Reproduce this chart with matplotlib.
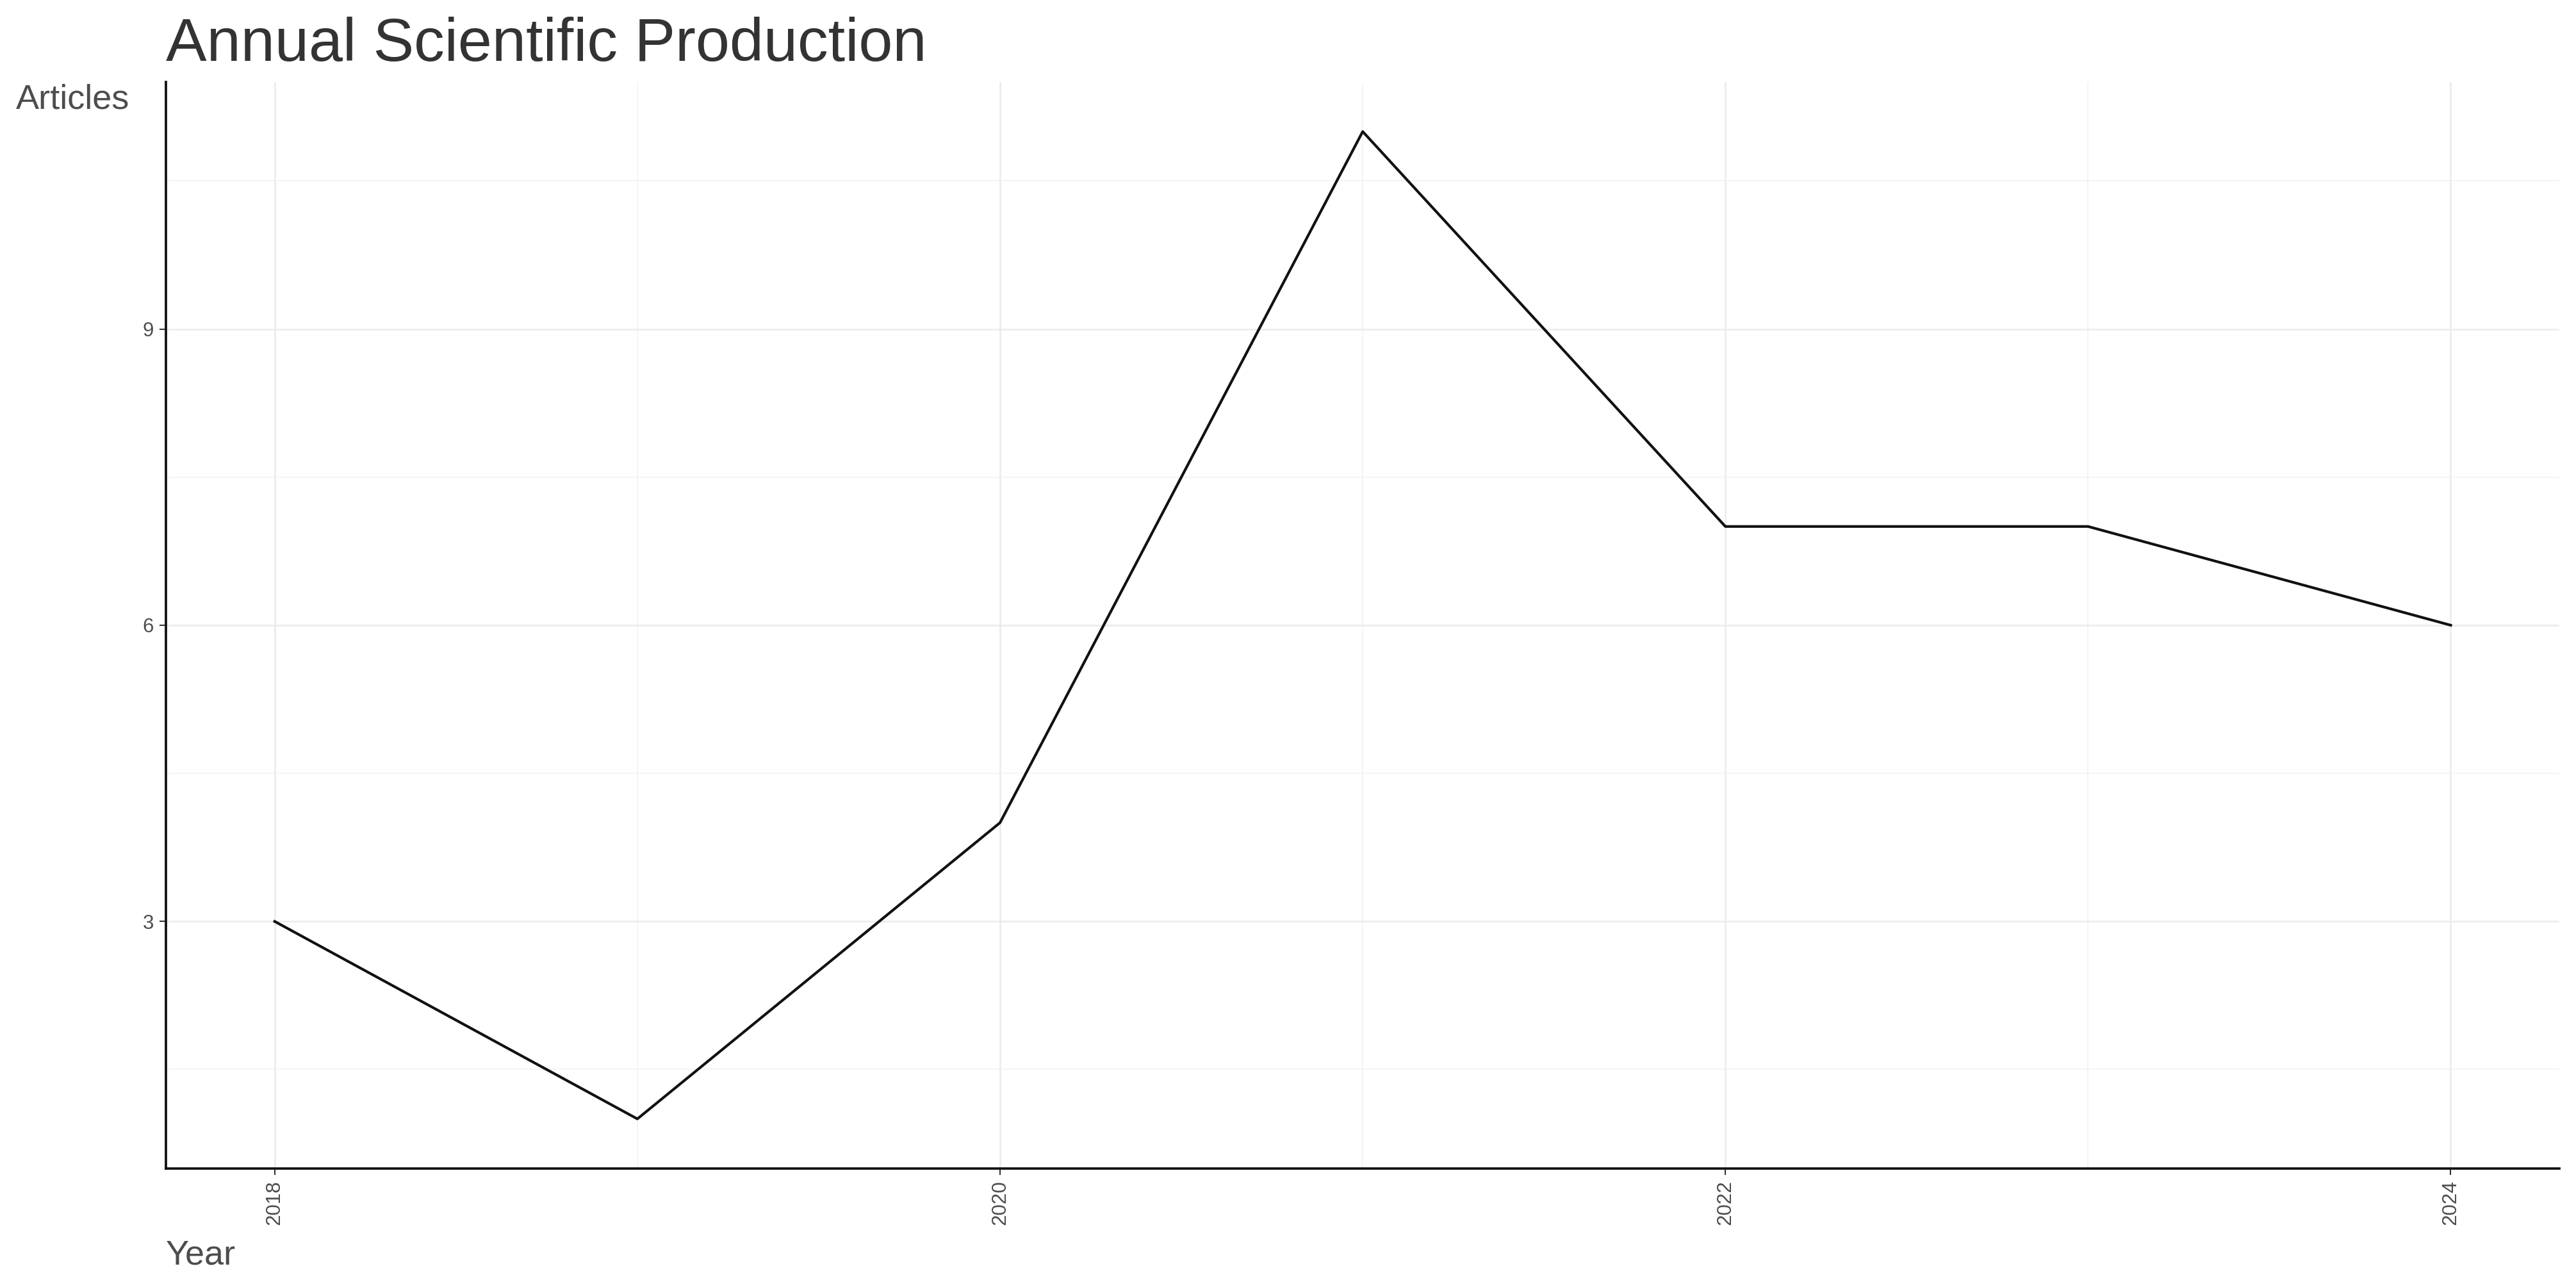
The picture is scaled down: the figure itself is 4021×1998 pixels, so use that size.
import matplotlib
matplotlib.use("Agg")
import matplotlib.pyplot as plt
from matplotlib.ticker import MultipleLocator

years = [2018, 2019, 2020, 2021, 2022, 2023, 2024]
articles = [3, 1, 4, 11, 7, 7, 6]
x_ticks = [2018, 2020, 2022, 2024]
y_ticks = [3, 6, 9]

plt.rcParams['font.family'] = ['Liberation Sans', 'DejaVu Sans']

fig = plt.figure(figsize=(4021/300, 1998/300), dpi=300)
ax = fig.add_axes([0.0644, 0.0873, 0.9292, 0.8485])

ax.plot(years, articles, color='#111111', lw=1.0, zorder=3)

ax.set_xlim(2017.7, 2024.3)
ax.set_ylim(0.5, 11.5)
ax.set_xticks(x_ticks)
ax.set_yticks(y_ticks)
ax.xaxis.set_minor_locator(MultipleLocator(1))
ax.yaxis.set_minor_locator(MultipleLocator(1.5))
ax.grid(which='major', color='#EBEBEB', lw=0.6, zorder=0)
ax.grid(which='minor', color='#F2F2F2', lw=0.4, zorder=0)
ax.tick_params(which='minor', length=0)
ax.tick_params(which='major', length=2.5, width=0.5, color='#333333',
               labelsize=7.5, labelcolor='#4D4D4D', pad=2)
for lab in ax.get_xticklabels():
    lab.set_rotation(90)
    lab.set_va('top')
    lab.set_ha('center')

for s in ['top', 'right']:
    ax.spines[s].set_visible(False)
for s in ['left', 'bottom']:
    ax.spines[s].set_linewidth(0.9)
    ax.spines[s].set_color('#111111')

fig.text(0.0644, 0.9525, 'Annual Scientific Production', fontsize=22.9,
         color='#333333', ha='left', va='baseline')
fig.text(0.0062, 0.915, 'Articles', fontsize=13, color='#4D4D4D', ha='left', va='baseline')
fig.text(0.0644, 0.0125, 'Year', fontsize=13, color='#4D4D4D', ha='left', va='baseline')

fig.savefig('out.png', dpi=300, facecolor='white')
